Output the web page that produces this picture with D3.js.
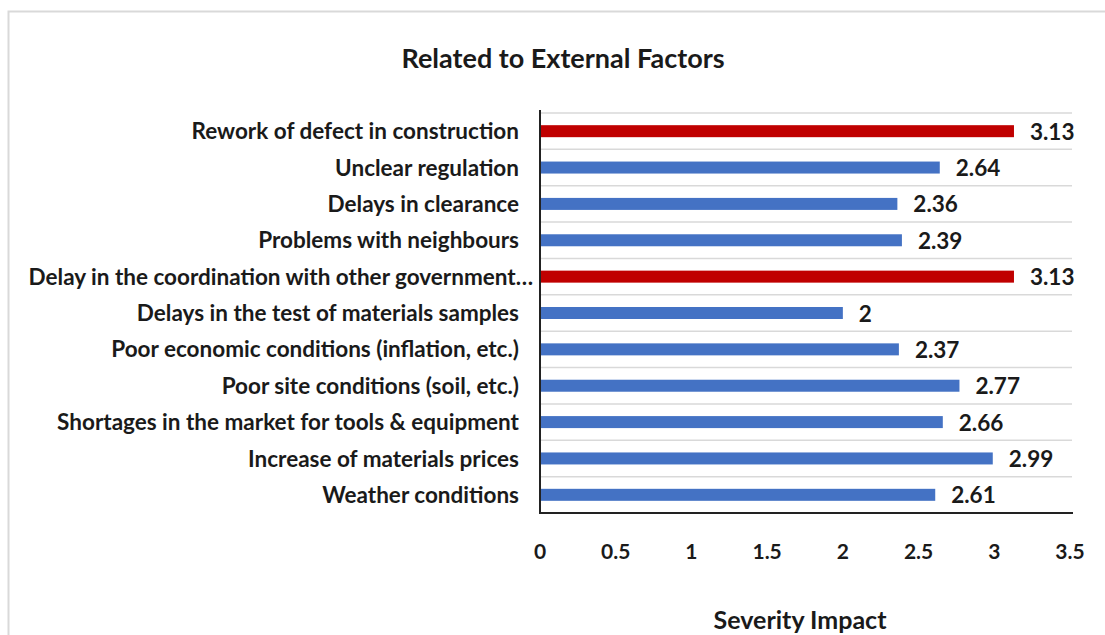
<!DOCTYPE html>
<html>
<head>
<meta charset="utf-8">
<script src="https://cdn.jsdelivr.net/npm/d3@7"></script>
<style>
	body { margin: 0; background: #fff; }
	text { font-family: Lato, "Open Sans", sans-serif; font-weight: bold; fill: #1a1a1a; }
</style>
</head>
<body>
<svg width="1105" height="635"></svg>
<script>
'use strict';
// chart data, top to bottom
const categories = [
	"Rework of defect in construction",
	"Unclear regulation",
	"Delays in clearance",
	"Problems with neighbours",
	"Delay in the coordination with other government…",
	"Delays in the test of materials samples",
	"Poor economic conditions (inflation, etc.)",
	"Poor site conditions (soil, etc.)",
	"Shortages in the market for tools & equipment",
	"Increase of materials prices",
	"Weather conditions"]
const values = [3.13, 2.64, 2.36, 2.39, 3.13, 2, 2.37, 2.77, 2.66, 2.99, 2.61]
const highlighted = [true, false, false, false, true, false, false, false, false, false, false]
const xTicks = [0, 0.5, 1, 1.5, 2, 2.5, 3, 3.5]

let eSvg = d3.select("svg")

// frame of the chart area
eSvg.append("rect")
	.attr("x", 8.5).attr("y", 11.5)
	.attr("width", 1120).attr("height", 640)
	.attr("fill", "none").attr("stroke", "#d9d9d9").attr("stroke-width", 2)

let x = d3.scaleLinear().domain([0, 3.5]).range([540, 1070])
let y = d3.scaleBand().domain(categories).range([113, 513]).paddingInner(0.67).paddingOuter(0.335)
let yGrid = d3.scaleLinear().domain([0, categories.length]).range([113, 513])

// horizontal separators between categories
eSvg.append("g").selectAll("line")
	.data(d3.range(categories.length))
	.enter().append("line")
	.attr("x1", 540).attr("x2", 1072)
	.attr("y1", d => yGrid(d)).attr("y2", d => yGrid(d))
	.attr("stroke", "#d9d9d9").attr("stroke-width", 1.5)

// bars
eSvg.append("g").selectAll("rect")
	.data(values)
	.enter().append("rect")
	.attr("x", x(0))
	.attr("y", (d, i) => y(categories[i]))
	.attr("width", d => x(d) - x(0))
	.attr("height", y.bandwidth())
	.attr("fill", (d, i) => highlighted[i] ? "#c00000" : "#4472c4")

// value labels
eSvg.append("g").selectAll("text")
	.data(values)
	.enter().append("text")
	.attr("x", d => x(d) + 16)
	.attr("y", (d, i) => y(categories[i]) + y.bandwidth() / 2)
	.attr("dy", "0.38em")
	.attr("font-size", 22.5)
	.text(d => d)

// category labels
eSvg.append("g").selectAll("text")
	.data(categories)
	.enter().append("text")
	.attr("x", d => d.endsWith("…") ? 533 : 519)
	.attr("y", d => y(d) + y.bandwidth() / 2)
	.attr("dy", "0.36em")
	.attr("text-anchor", "end")
	.attr("font-size", 22.5)
	.text(d => d)

// axes lines
eSvg.append("line")
	.attr("x1", 540).attr("x2", 540).attr("y1", 110).attr("y2", 514)
	.attr("stroke", "#222").attr("stroke-width", 2)
eSvg.append("line")
	.attr("x1", 539).attr("x2", 1073).attr("y1", 513).attr("y2", 513)
	.attr("stroke", "#222").attr("stroke-width", 2)

// x tick labels
eSvg.append("g").selectAll("text")
	.data(xTicks)
	.enter().append("text")
	.attr("x", d => x(d))
	.attr("y", 551)
	.attr("dy", "0.36em")
	.attr("text-anchor", "middle")
	.attr("font-size", 21)
	.text(d => d)

// titles
eSvg.append("text")
	.attr("x", 563).attr("y", 58).attr("dy", "0.36em")
	.attr("text-anchor", "middle")
	.attr("font-size", 27)
	.text("Related to External Factors")

eSvg.append("text")
	.attr("x", 800).attr("y", 620).attr("dy", "0.36em")
	.attr("text-anchor", "middle")
	.attr("font-size", 25)
	.text("Severity Impact")
</script>
</body>
</html>
